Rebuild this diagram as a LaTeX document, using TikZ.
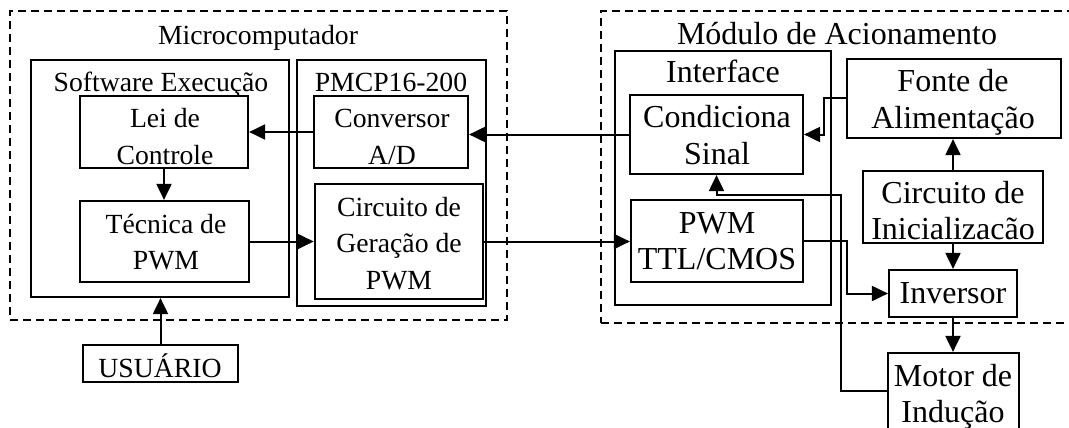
\documentclass[tikz,border=0pt]{standalone}
\usepackage{fontspec}
\setmainfont{Liberation Serif}
\usetikzlibrary{arrows.meta,fit}
\newcommand{\mlines}[1]{\begin{tabular}[t]{@{}c@{}}#1\end{tabular}}
\begin{document}
\begin{tikzpicture}[x=1pt,y={(0pt,-1pt)},
  box/.style={draw,line width=2.2pt,inner sep=0pt},
  grp/.style={draw,line width=1.8pt,dash pattern=on 8pt off 5pt,inner sep=0pt},
  lt/.style={inner sep=0pt,anchor=base,font=\fontsize{27.7}{36.5}\selectfont},
  rt/.style={inner sep=0pt,anchor=base,font=\fontsize{32}{36.5}\selectfont},
  arr/.style={line width=2pt,-{Triangle[length=16pt,width=15pt]}},
  ln/.style={line width=2pt}]
\useasboundingbox (0,0) rectangle (1069,428);
% groups
\node[grp,fit={(10,11) (507,320)}] (micro) {};
\node[grp,fit={(601,11) (1085,323)}] (modulo) {};
% boxes
\node[box,fit={(31,60) (289,297)}] (soft) {};
\node[box,fit={(80,96) (248,168)}] (lei) {};
\node[box,fit={(80,201) (249,282)}] (tec) {};
\node[box,fit={(297,60) (486,306)}] (pmcp) {};
\node[box,fit={(314,96) (468,168)}] (conv) {};
\node[box,line width=2.6pt,fit={(315,184) (483,299)}] (ger) {};
\node[box,fit={(83,345) (238,382)}] (usu) {};
\node[box,fit={(615,51) (831,305)}] (interf) {};
\node[box,fit={(630,95) (803,174)}] (cond) {};
\node[box,fit={(631,200) (803,282)}] (pwmt) {};
\node[box,fit={(847,59) (1061,138)}] (fonte) {};
\node[box,fit={(863,171) (1043,243)}] (cini) {};
\node[box,fit={(889,270) (1017,317)}] (inv) {};
\node[box,fit={(888,353) (1019,445)}] (motor) {};
% texts
\node[lt] (microT) at (258,45) {Microcomputador};
\node[rt] (modT) at (837,45) {Módulo de Acionamento};
\node[lt] (softT) at (161,92) {Software Execução};
\node[lt] (pmcpT) at (391,92) {PMCP16-200};
\node[lt] (leiT) at (165,128) {\mlines{Lei de\\Controle}};
\node[lt] (convT) at (392,128) {\mlines{Conversor\\A/D}};
\node[lt] (tecT) at (166,233) {\mlines{Técnica de\\PWM}};
\node[lt] (gerT) at (399,216) {\mlines{Circuito de\\Geração de\\PWM}};
\node[lt] (usuT) at (160,377) {USUÁRIO};
\node[rt] (interfT) at (723,83) {Interface};
\node[rt] (condT) at (717,128) {\mlines{Condiciona\\Sinal}};
\node[rt] (pwmtT) at (717,233) {\mlines{PWM\\TTL/CMOS}};
\node[rt] (fonteT) at (953,92) {\mlines{Fonte de\\Alimentação}};
\node[rt] (ciniT) at (953,203) {\mlines{Circuito de\\Inicializacão}};
\node[rt] (invT) at (953,303) {Inversor};
\node[rt] (motorT) at (953,386) {\mlines{Motor de\\Indução}};
% connectors
\draw[arr] (usu.north) -- (usu.north |- soft.south);
\draw[arr] (conv.west) -- (conv.west -| lei.east);
\draw[arr] (lei.south) -- (lei.south |- tec.north);
\draw[arr] (tec.east) -- (tec.east -| ger.west);
\draw[arr] (cond.west) -- (cond.west -| conv.east);
\draw[arr] (ger.east) -- (ger.east -| pwmt.west);
\draw[arr] (fonte.west) -- ++(-22,0) |- (cond.east);
\draw[arr] (cini.north) -- (cini.north |- fonte.south);
\draw[arr] (cini.south) -- (cini.south |- inv.north);
\draw[arr] (inv.south) -- (inv.south |- motor.north);
\draw[arr] (pwmt.east) -- ++(43,0) |- (inv.west);
\coordinate (fbstart) at (888,391);
\coordinate (fbturn) at (841,195);
\draw[arr] (fbstart) -| (fbturn) -| (cond.south);
\end{tikzpicture}
\end{document}
